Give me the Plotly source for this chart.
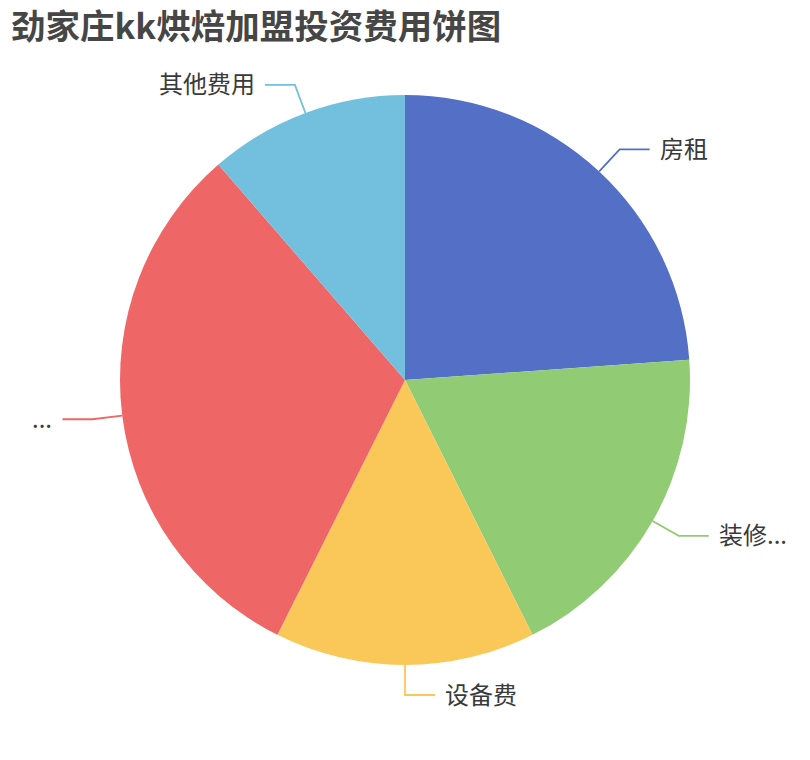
import numpy as np
import plotly.graph_objects as go

# data
title = "劲家庄kk烘焙加盟投资费用饼图"
names = ["房租", "装修费用", "设备费", "加盟费", "其他费用"]
label_text = ["房租", "装修...", "设备费", "...", "其他费用"]
values = [21, 16.5, 13, 27.5, 10]
colors = ["#5470c6", "#91cc75", "#fac858", "#ee6666", "#73c0de"]

# layout constants (pixels); the page body adds an 8px margin
off = 8
W, H = 802, 752
cx, cy, r = 405 - off, 380 - off, 285
len1, len2 = 30, 30
font = "Noto Sans CJK SC, Noto Sans, sans-serif"

fig = go.Figure()

fig.add_trace(go.Pie(
    labels=names, values=values, sort=False,
    direction="clockwise", rotation=0,
    marker=dict(colors=colors, line=dict(width=0)),
    textinfo="none", showlegend=False,
    domain=dict(x=[(cx - r) / W, (cx + r) / W],
                y=[1 - (cy + r) / H, 1 - (cy - r) / H]),
))

# leader lines + labels, angle measured clockwise from 12 o'clock
vals = np.array(values, dtype=float)
frac = vals / vals.sum()
mids = (np.cumsum(frac) - frac / 2) * 2 * np.pi
annotations = []
for ang, txt, col in zip(mids, label_text, colors):
    s, c = np.sin(ang), np.cos(ang)
    side = 1 if s >= -1e-9 else -1
    x0, y0 = cx + r * s, cy - r * c
    x1, y1 = cx + (r + len1) * s, cy - (r + len1) * c
    x2 = x1 + side * len2
    fig.add_trace(go.Scatter(
        x=[x0, x1, x2], y=[y0, y1, y1], mode="lines",
        line=dict(color=col, width=1.8), hoverinfo="skip", showlegend=False,
    ))
    annotations.append(dict(
        x=x2 + side * 8, y=y1 - 2, xref="x", yref="y", text=txt, showarrow=False,
        xanchor="left" if side > 0 else "right", yanchor="middle",
        font=dict(family=font, size=24, color="#3a3a3a"),
    ))

annotations.append(dict(
    x=10 - off, y=16, xref="x", yref="y", text="<b>" + title + "</b>",
    showarrow=False, xanchor="left", yanchor="middle", borderpad=0,
    font=dict(family=font, size=34.5, color="#464646"),
))

fig.update_layout(
    width=W, height=H,
    margin=dict(l=0, r=0, t=0, b=0),
    paper_bgcolor="white", plot_bgcolor="white",
    xaxis=dict(range=[0, W], visible=False, fixedrange=True),
    yaxis=dict(range=[H, 0], visible=False, fixedrange=True),
    annotations=annotations,
)

fig.write_html("out.html")
